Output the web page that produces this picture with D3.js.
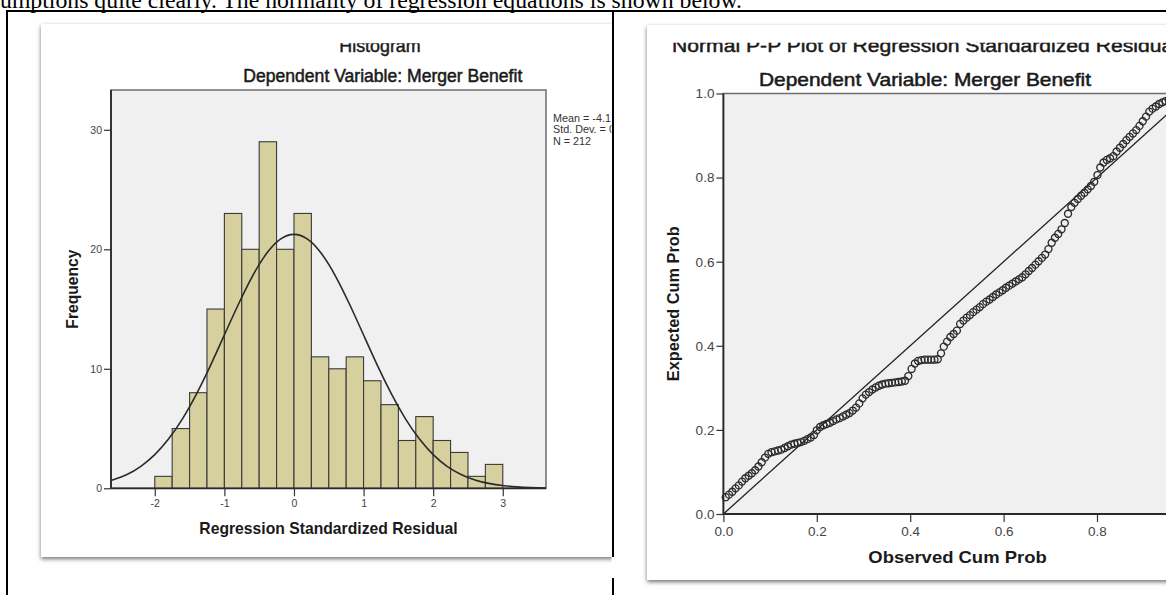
<!DOCTYPE html>
<html><head><meta charset="utf-8">
<script src="https://cdn.jsdelivr.net/npm/d3@7"></script>
<style>html,body{margin:0;padding:0;background:#fff;overflow:hidden}</style>
</head><body><svg id="c" width="1166" height="595"></svg>
<script>
// ---------------- data ----------------
const pageText = "umptions quite clearly. The normality of regression equations is shown below.";
const histTitle = "Histogram";
const histSubtitle = "Dependent Variable: Merger Benefit";
const histXLabel = "Regression Standardized Residual";
const histYLabel = "Frequency";
const histBinStart = [-2,-1.75,-1.5,-1.25,-1,-0.75,-0.5,-0.25,0,0.25,0.5,0.75,1,1.25,1.5,1.75,2,2.25,2.5,2.75];
const histCounts   = [1,5,8,15,23,20,29,20,23,11,10,11,9,7,4,6,4,3,1,2];
const histBinWidth = 0.25;
const histXTicks = [-2,-1,0,1,2,3];
const histYTicks = [0,10,20,30];
const normalX = [-2.63,-2.4,-2.2,-2,-1.8,-1.6,-1.4,-1.2,-1,-0.8,-0.6,-0.4,-0.2,0,0.2,0.4,0.6,0.8,1,1.2,1.4,1.6,1.8,2,2.2,2.4,2.6,2.8,3,3.2,3.4,3.62];
const normalY = [0.65,1.16,1.84,2.82,4.14,5.83,7.90,10.27,12.83,15.38,17.72,19.60,20.83,21.25,20.83,19.60,17.72,15.38,12.83,10.27,7.90,5.83,4.14,2.82,1.84,1.16,0.70,0.41,0.23,0.12,0.06,0.03];
const legendLines = ["Mean = -4.17E-15","Std. Dev. = 0.995","N = 212"];

const ppTitle = "Normal P-P Plot of Regression Standardized Residual";
const ppSubtitle = "Dependent Variable: Merger Benefit";
const ppXLabel = "Observed Cum Prob";
const ppYLabel = "Expected Cum Prob";
const ppYTicks = [0,0.2,0.4,0.6,0.8,1.0];
const ppXTicks = [0,0.2,0.4,0.6,0.8];
const ppObserved = [0.005,0.012,0.019,0.026,0.033,0.040,0.047,0.054,0.061,0.068,0.075,0.082,0.089,0.096,0.103,0.110,0.117,0.124,0.131,0.138,0.145,0.152,0.159,0.166,0.173,0.180,0.187,0.194,
0.200,0.207,0.214,0.221,0.228,0.235,0.242,0.249,0.256,0.263,0.270,0.277,0.284,0.291,0.298,0.305,0.312,0.319,0.326,0.333,0.340,0.347,0.354,0.361,0.368,0.375,0.382,0.389,0.396,0.403,0.410,0.417,0.424,0.431,0.438,0.445,0.452,0.459,
0.466,
0.472,0.479,0.486,0.493,0.500,0.507,0.514,0.521,0.528,0.535,0.542,0.549,0.556,0.563,0.570,0.577,0.584,0.591,0.598,0.605,0.612,0.619,0.626,0.633,0.640,0.647,0.654,0.661,0.668,0.675,0.682,0.689,0.696,0.703,0.710,0.717,0.724,0.731,0.738,0.745,0.752,0.759,0.766,0.773,0.780,0.787,0.794,
0.801,
0.807,0.814,0.821,0.828,0.835,0.842,0.849,0.856,0.863,0.870,0.877,0.884,0.891,0.898,0.905,0.912,0.919,0.926,0.933,0.940,0.947,0.954,0.961,0.968,0.975,0.982,0.989,0.996];
const ppExpected = [0.040,0.046,0.053,0.061,0.068,0.077,0.085,0.091,0.097,0.104,0.113,0.123,0.134,0.143,0.147,0.149,0.151,0.153,0.157,0.161,0.165,0.167,0.169,0.171,0.174,0.178,0.182,0.188,
0.199,0.207,0.211,0.214,0.217,0.221,0.225,0.228,0.232,0.236,0.240,0.246,0.253,0.263,0.275,0.284,0.290,0.296,0.301,0.305,0.308,0.310,0.311,0.312,0.313,0.314,0.315,0.317,0.328,0.345,0.358,0.364,0.366,0.367,0.367,0.367,0.367,0.368,
0.382,
0.398,0.410,0.421,0.428,0.436,0.452,0.460,0.467,0.473,0.480,0.486,0.492,0.499,0.505,0.510,0.516,0.522,0.527,0.532,0.538,0.543,0.548,0.553,0.558,0.563,0.570,0.578,0.585,0.593,0.601,0.609,0.617,0.630,0.645,0.657,0.666,0.677,0.692,0.714,0.730,0.740,0.749,0.757,0.764,0.772,0.780,0.790,
0.806,
0.824,0.836,0.842,0.846,0.851,0.862,0.871,0.880,0.889,0.897,0.905,0.913,0.923,0.934,0.945,0.957,0.964,0.969,0.975,0.979,0.982,0.985,0.988,0.990,0.992,0.994,0.996,0.998];

// ---------------- drawing ----------------
const svg = d3.select("#c");
const defs = svg.append("defs");
const f = defs.append("filter").attr("id","sh").attr("x","-5%").attr("y","-5%").attr("width","110%").attr("height","112%");
f.append("feDropShadow").attr("dx",0).attr("dy",2).attr("stdDeviation",2).attr("flood-color","#000").attr("flood-opacity",0.55);
defs.append("clipPath").attr("id","clipL").append("rect").attr("x",0).attr("y",0).attr("width",611.5).attr("height",595);
defs.append("clipPath").attr("id","clipHT").append("rect").attr("x",0).attr("y",43.3).attr("width",1166).attr("height",100);
defs.append("clipPath").attr("id","clipPT").append("rect").attr("x",0).attr("y",42.8).attr("width",1166).attr("height",100);
defs.append("clipPath").attr("id","clipPage").append("rect").attr("x",0).attr("y",0).attr("width",1166).attr("height",595);

const SANS = "'Liberation Sans', Arial, sans-serif";

// page text
svg.append("text").attr("x",0).attr("y",7.5)
  .attr("font-family","'Liberation Serif','Times New Roman',serif").attr("font-size",23)
  .attr("textLength",742).attr("lengthAdjust","spacingAndGlyphs").attr("fill","#000").text(pageText);

// ---------- left image (histogram) ----------
const L = svg.append("g").attr("clip-path","url(#clipL)");
L.append("rect").attr("x",41).attr("y",24).attr("width",720).attr("height",533).attr("fill","#fff").attr("filter","url(#sh)");

const xH = d3.scaleLinear().domain([-2.629, 3.621]).range([111, 546]);
const yH = d3.scaleLinear().domain([0, 33.33]).range([488.3, 90]);

L.append("rect").attr("x",xH.range()[0]).attr("y",yH.range()[1])
  .attr("width",xH.range()[1]-xH.range()[0]).attr("height",yH.range()[0]-yH.range()[1])
  .attr("fill","#f0f0f0").attr("stroke","#6e6e6e").attr("stroke-width",1.5);

L.append("g").selectAll("rect").data(d3.zip(histBinStart,histCounts)).join("rect")
  .attr("x",d=>xH(d[0])).attr("width",d=>xH(d[0]+histBinWidth)-xH(d[0]))
  .attr("y",d=>yH(d[1])).attr("height",d=>yH(0)-yH(d[1]))
  .attr("fill","#d5d09d").attr("stroke","#3a3a3a").attr("stroke-width",1.1);

const nline = d3.line().x(d=>xH(d[0])).y(d=>yH(d[1])).curve(d3.curveNatural);
L.append("path").attr("d",nline(d3.zip(normalX,normalY))).attr("fill","none").attr("stroke","#2a2a2a").attr("stroke-width",1.6);

// axes
const yAxH = L.append("g").attr("transform",`translate(${xH.range()[0]},0)`)
  .call(d3.axisLeft(yH).tickValues(histYTicks).tickSize(7).tickPadding(2).tickFormat(d=>String(d)));
const xAxH = L.append("g").attr("transform",`translate(0,${yH(0)})`)
  .call(d3.axisBottom(xH).tickValues(histXTicks).tickSize(8).tickPadding(3).tickFormat(d=>String(d)));
[yAxH,xAxH].forEach(a=>{
  a.select(".domain").attr("stroke","#2a2a2a").attr("stroke-width",1.8);
  a.selectAll(".tick line").attr("stroke","#333").attr("stroke-width",1.2);
  a.selectAll(".tick text").attr("fill","#444").attr("font-family",SANS).attr("font-size",10.5);
});
yAxH.select(".domain").attr("d",`M0,${yH.range()[1]}V${yH.range()[0]}`);
xAxH.select(".domain").attr("d",`M${xH.range()[0]},0H${xH.range()[1]}`);

// titles
L.append("text").attr("clip-path","url(#clipHT)").attr("x",339.3).attr("y",51.7).attr("font-family",SANS).attr("font-size",18)
  .attr("textLength",81.4).attr("lengthAdjust","spacingAndGlyphs").attr("fill","#1a1a1a").attr("stroke","#1a1a1a").attr("stroke-width",0.45).text(histTitle);
L.append("text").attr("x",243.3).attr("y",81.7).attr("font-family",SANS).attr("font-size",17.5)
  .attr("textLength",279).attr("lengthAdjust","spacingAndGlyphs").attr("fill","#1a1a1a").attr("stroke","#1a1a1a").attr("stroke-width",0.5).text(histSubtitle);
L.append("text").attr("x",(xH.range()[0]+xH.range()[1])/2).attr("y",534).attr("text-anchor","middle")
  .attr("font-family",SANS).attr("font-weight","bold").attr("font-size",15.7).attr("textLength",258.4).attr("lengthAdjust","spacingAndGlyphs")
  .attr("fill","#1a1a1a").text(histXLabel);
L.append("text").attr("transform",`translate(77.5,${(yH.range()[0]+yH.range()[1])/2}) rotate(-90)`).attr("text-anchor","middle")
  .attr("font-family",SANS).attr("font-weight","bold").attr("font-size",15.7).attr("textLength",79).attr("lengthAdjust","spacingAndGlyphs")
  .attr("fill","#1a1a1a").text(histYLabel);
L.append("g").selectAll("text").data(legendLines).join("text")
  .attr("x",553).attr("y",(d,i)=>121.5+i*11.7).attr("font-family",SANS).attr("font-size",10.8).attr("fill","#333").text(d=>d);

// ---------- right image (P-P plot) ----------
const R = svg.append("g").attr("clip-path","url(#clipPage)");
R.append("rect").attr("x",647).attr("y",25).attr("width",600).attr("height",555).attr("fill","#fff").attr("filter","url(#sh)");

const xP = d3.scaleLinear().domain([0,1]).range([723.4, 1190.4]);
const yP = d3.scaleLinear().domain([0,1]).range([514, 93.5]);
R.append("rect").attr("x",xP(0)).attr("y",yP(1)).attr("width",xP(1)-xP(0)).attr("height",yP(0)-yP(1))
  .attr("fill","#f0f0f0").attr("stroke","#6e6e6e").attr("stroke-width",1.5);
R.append("line").attr("x1",xP(0)).attr("y1",yP(0)).attr("x2",xP(1)).attr("y2",yP(1)).attr("stroke","#222").attr("stroke-width",1.3);
R.append("g").selectAll("circle").data(d3.zip(ppObserved,ppExpected)).join("circle")
  .attr("cx",d=>xP(d[0])).attr("cy",d=>yP(d[1])).attr("r",3.5)
  .attr("fill","none").attr("stroke","#2b2b2b").attr("stroke-width",1.35);

const yAxP = R.append("g").attr("transform",`translate(${xP(0)},0)`)
  .call(d3.axisLeft(yP).tickValues(ppYTicks).tickSize(7).tickPadding(2).tickFormat(d3.format(".1f")));
const xAxP = R.append("g").attr("transform",`translate(0,${yP(0)})`)
  .call(d3.axisBottom(xP).tickValues(ppXTicks).tickSize(8).tickPadding(4).tickFormat(d3.format(".1f")));
[yAxP,xAxP].forEach(a=>{
  a.select(".domain").attr("stroke","#2a2a2a").attr("stroke-width",1.8);
  a.selectAll(".tick line").attr("stroke","#333").attr("stroke-width",1.2);
  a.selectAll(".tick text").attr("fill","#444").attr("font-family",SANS).attr("font-size",13.5);
});
yAxP.select(".domain").attr("d",`M0,${yP.range()[1]}V${yP.range()[0]}`);
xAxP.select(".domain").attr("d",`M${xP.range()[0]},0H${xP.range()[1]}`);

R.append("text").attr("clip-path","url(#clipPT)").attr("x",672).attr("y",51.5).attr("font-family",SANS).attr("font-size",18)
  .attr("textLength",506).attr("lengthAdjust","spacingAndGlyphs").attr("fill","#1a1a1a").attr("stroke","#1a1a1a").attr("stroke-width",0.45).text(ppTitle);
R.append("text").attr("x",759).attr("y",86).attr("font-family",SANS).attr("font-size",17.7)
  .attr("textLength",332).attr("lengthAdjust","spacingAndGlyphs").attr("fill","#1a1a1a").attr("stroke","#1a1a1a").attr("stroke-width",0.5).text(ppSubtitle);
R.append("text").attr("x",957.5).attr("y",563).attr("text-anchor","middle")
  .attr("font-family",SANS).attr("font-weight","bold").attr("font-size",17).attr("textLength",178.4).attr("lengthAdjust","spacingAndGlyphs")
  .attr("fill","#1a1a1a").text(ppXLabel);
R.append("text").attr("transform",`translate(679,${(yP.range()[0]+yP.range()[1])/2}) rotate(-90)`).attr("text-anchor","middle")
  .attr("font-family",SANS).attr("font-weight","bold").attr("font-size",15.7).attr("textLength",155).attr("lengthAdjust","spacingAndGlyphs")
  .attr("fill","#1a1a1a").text(ppYLabel);

// ---------- table borders ----------
const B = svg.append("g").attr("fill","#000");
B.append("rect").attr("x",6).attr("y",10).attr("width",1160).attr("height",2);
B.append("rect").attr("x",6).attr("y",10).attr("width",2).attr("height",585);
B.append("rect").attr("x",612).attr("y",10).attr("width",2).attr("height",547);
B.append("rect").attr("x",612).attr("y",578).attr("width",2).attr("height",17);
</script></body></html>
